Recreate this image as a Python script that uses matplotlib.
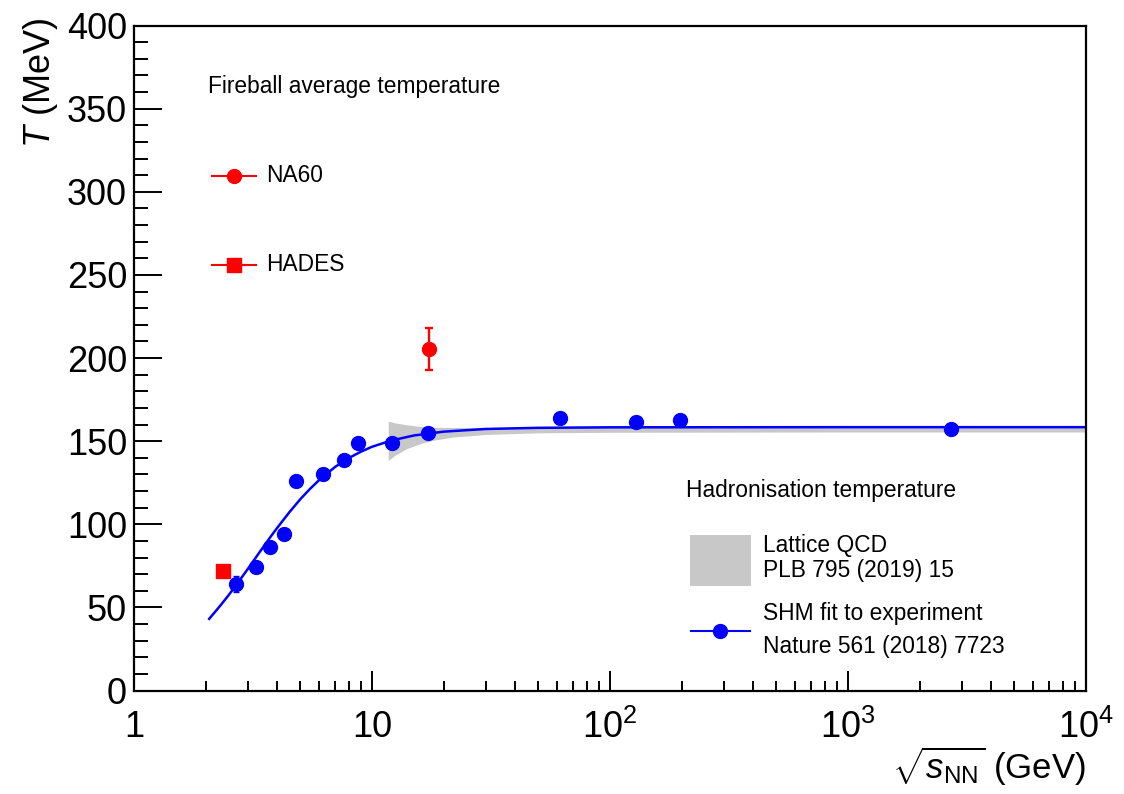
import numpy as np
import matplotlib
matplotlib.use("Agg")
import matplotlib.pyplot as plt
from matplotlib.lines import Line2D
from matplotlib.patches import Rectangle
from matplotlib.ticker import FixedLocator, FixedFormatter, LogLocator, MultipleLocator, NullFormatter

plt.rcParams["font.family"] = ["Liberation Sans", "DejaVu Sans"]
plt.rcParams["mathtext.fontset"] = "custom"
plt.rcParams["mathtext.rm"] = "Liberation Sans"
plt.rcParams["mathtext.it"] = "Liberation Sans:italic"

# ---------------------------------------------------------------------------
# Data
# ---------------------------------------------------------------------------

# hadronisation temperatures (SHM fits to experiment)
shm_sqrts = [2.68, 3.26, 3.73, 4.27, 4.8, 6.2, 7.6, 8.7, 12.1, 17.2, 61.6, 128.5, 197.0, 2710.0]
shm_T = [64.0, 74.3, 86.4, 94.3, 126.3, 130.5, 138.4, 148.6, 148.6, 154.7, 163.7, 161.3, 162.5, 157.1]
shm_Terr = [5.0, 0, 0, 0, 0, 0, 0, 0, 0, 0, 0, 0, 0, 0]

# SHM parametrisation curve
curve_sqrts = [2.07, 2.3, 2.5, 2.75, 3.0, 3.25, 3.5, 3.75, 4.0, 4.5, 5.0, 5.5, 6.0, 7.0, 8.0,
               9.0, 10.0, 12.0, 15.0, 20.0, 30.0, 50.0, 100.0, 1000.0, 10000.0]
curve_T = [43.1, 50.9, 57.4, 65.4, 72.9, 80.0, 86.5, 92.5, 97.9, 107.3, 115.1, 121.4, 126.6,
           134.5, 139.9, 143.7, 146.6, 150.3, 153.4, 155.7, 157.3, 158.0, 158.3, 158.4, 158.4]

# lattice QCD band
lqcd_sqrts = [11.7, 12.5, 14.0, 16.0, 18.0, 22.0, 30.0, 50.0, 100.0, 1000.0, 10000.0]
lqcd_low = [138.4, 141.5, 145.5, 148.5, 150.5, 152.5, 154.0, 155.0, 155.3, 155.5, 155.5]
lqcd_high = [162.0, 161.0, 159.8, 158.8, 158.3, 158.2, 158.2, 158.2, 158.2, 158.2, 158.2]

# fireball average temperatures (dileptons)
na60_sqrts = [17.3]
na60_T = [205.6]
na60_Terr = [12.6]
hades_sqrts = [2.37]
hades_T = [71.9]

xtick_vals = [1, 10, 100, 1000, 10000]
xtick_labels = ["1", "10", r"$10^{2}$", r"$10^{3}$", r"$10^{4}$"]

BLUE = "#0000ff"
RED = "#ff0000"
GRAY = "#c8c8c8"

# ---------------------------------------------------------------------------
# Figure
# ---------------------------------------------------------------------------

fig = plt.figure(figsize=(11.24, 7.94), dpi=100)
ax = fig.add_axes([134 / 1124, 1 - 690.5 / 794, 952 / 1124, 665 / 794])

ax.fill_between(lqcd_sqrts, lqcd_low, lqcd_high, color=GRAY, lw=0, zorder=1)
ax.plot(curve_sqrts, curve_T, color=BLUE, lw=1.8, zorder=2)

shm_err = np.array(shm_Terr, dtype=float)
ax.errorbar(shm_sqrts, shm_T, yerr=np.where(shm_err > 0, shm_err, np.nan),
            fmt="o", color=BLUE, ms=10, elinewidth=1.5, capsize=2.5, zorder=3)
ax.errorbar(na60_sqrts, na60_T, yerr=na60_Terr, fmt="o", color=RED, ms=10,
            elinewidth=1.7, capsize=3, capthick=1.7, zorder=4)
ax.plot(hades_sqrts, hades_T, "s", color=RED, ms=9.5, zorder=4)

ax.set_xscale("log")
ax.set_xlim(1, 1e4)
ax.set_ylim(0, 400)

ax.xaxis.set_major_locator(FixedLocator(xtick_vals))
ax.xaxis.set_major_formatter(FixedFormatter(xtick_labels))
ax.xaxis.set_minor_locator(LogLocator(base=10, subs=np.arange(2, 10)))
ax.xaxis.set_minor_formatter(NullFormatter())
ax.yaxis.set_major_locator(MultipleLocator(50))
ax.yaxis.set_minor_locator(MultipleLocator(10))

ax.tick_params(axis="x", which="major", direction="in", length=14.4, width=1.4,
               labelsize=26, pad=14, top=False)
ax.tick_params(axis="x", which="minor", direction="in", length=7.2, width=1.4, top=False)
ax.tick_params(axis="y", which="major", direction="in", length=20.5, width=1.4,
               labelsize=26, pad=5, right=False)
ax.tick_params(axis="y", which="minor", direction="in", length=10.3, width=1.4, right=False)
for sp in ax.spines.values():
    sp.set_linewidth(1.6)

fig.text(40 / 1124, 1 - 18 / 794, r"$T$ (MeV)", rotation=90, ha="center", va="top", fontsize=26)
fig.text(1086 / 1124, 1 - 766 / 794, r"$\sqrt{s_{\rm NN}}$ (GeV)", ha="right", va="center",
         fontsize=25)

# ---------------------------------------------------------------------------
# Legends (drawn by hand, ROOT style)
# ---------------------------------------------------------------------------
tr = ax.transAxes
leg_fs = 16.4

ax.text(0.0777, 0.909, "Fireball average temperature", transform=tr, fontsize=leg_fs,
        va="center", ha="left")
for yy, mk, ms, lab in [(0.774, "o", 10, "NA60"), (0.640, "s", 9.5, "HADES")]:
    ax.add_line(Line2D([0.082, 0.128], [yy, yy], color=RED, lw=1.5, transform=tr))
    ax.add_line(Line2D([0.105], [yy], marker=mk, ms=ms, color=RED, transform=tr))
    ax.text(0.1387, yy, lab, transform=tr, fontsize=leg_fs, va="center", ha="left")

ax.text(0.580, 0.300, "Hadronisation temperature", transform=tr, fontsize=leg_fs,
        va="center", ha="left")
ax.add_patch(Rectangle((0.584, 0.157), 0.064, 0.077, transform=tr, color=GRAY, lw=0))
ax.text(0.661, 0.2173, "Lattice QCD", transform=tr, fontsize=leg_fs, va="center")
ax.text(0.661, 0.1797, "PLB 795 (2019) 15", transform=tr, fontsize=leg_fs, va="center")
ax.add_line(Line2D([0.585, 0.647], [0.0895, 0.0895], color=BLUE, lw=1.5, transform=tr))
ax.add_line(Line2D([0.6155], [0.0895], marker="o", ms=10, color=BLUE, transform=tr))
ax.text(0.661, 0.1165, "SHM fit to experiment", transform=tr, fontsize=leg_fs, va="center")
ax.text(0.661, 0.0669, "Nature 561 (2018) 7723", transform=tr, fontsize=leg_fs, va="center")

fig.savefig("out.png", dpi=100)
